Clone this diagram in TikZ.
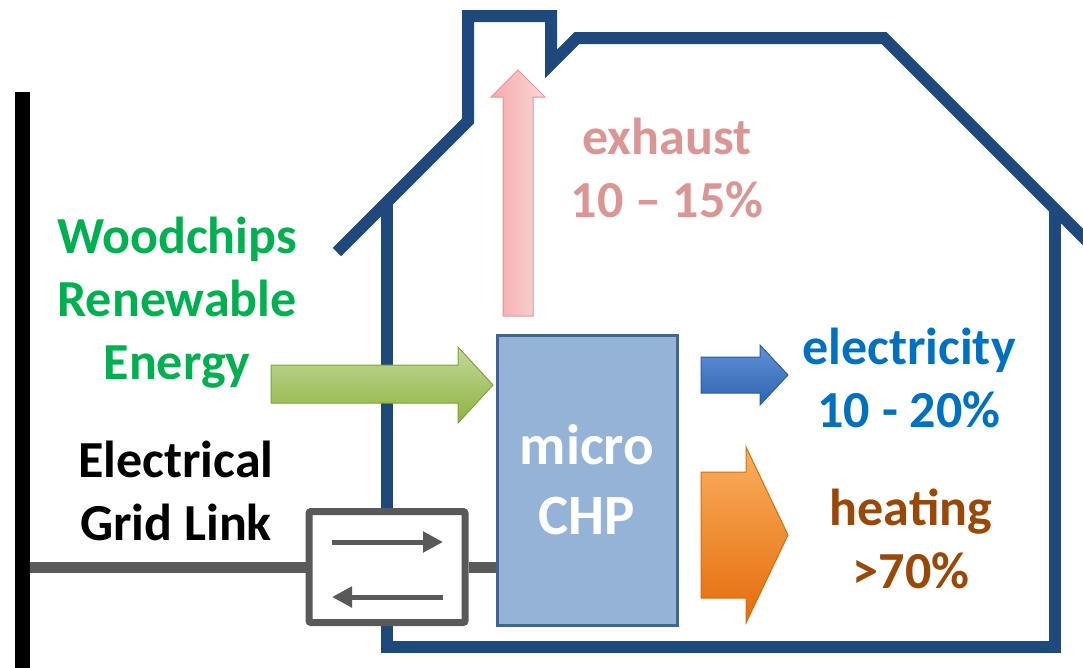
\documentclass[tikz,border=0pt]{standalone}
\usepackage{fontspec}
\setmainfont{Carlito}
\usetikzlibrary{arrows.meta}
\definecolor{houseblue}{RGB}{31,73,125}
\definecolor{chpfill}{RGB}{149,179,215}
\definecolor{chpline}{RGB}{63,100,150}
\definecolor{linkgray}{RGB}{89,89,89}
\definecolor{woodgreen}{RGB}{0,176,80}
\definecolor{exhaustpink}{RGB}{217,150,148}
\definecolor{elecblue}{RGB}{0,112,192}
\definecolor{heatbrown}{RGB}{152,72,7}

\begin{document}
\begin{tikzpicture}[x=1pt,y=-1pt,
    house/.style={draw=houseblue,line width=12pt},
    txt/.style={font=\bfseries\fontsize{52}{63}\selectfont,align=center},
    chp node/.style={draw=chpline,line width=3pt,fill=chpfill,minimum width=180pt,minimum height=290pt,
        text=white,font=\bfseries\fontsize{57}{70}\selectfont,align=center},
    link node/.style={draw=linkgray,line width=7pt,fill=white,minimum width=156pt,minimum height=111pt,
        inner sep=0pt,rounded corners=2pt},
    wire/.style={draw=linkgray,line width=11pt},
    small arrow/.style={draw=linkgray,line width=5pt,-{Triangle[length=20pt,width=20pt]}},
    block arrow/.style={line width=1pt}]
    \useasboundingbox (0,0) rectangle (1083,667);

    % house outline
    \draw[house] (337,252) -- (468,121) -- (468,16) -- (551,16) -- (551,64) -- (577,38) -- (884,38) -- (1100,254);
    \draw[house] (387,202) -- (387,647) -- (1055,647) -- (1055,209);

    % grid link
    \node[chp node] (chp) at (587,480) {micro\\CHP};
    \node[link node] (link) at (387,567) {};
    \coordinate (tap) at (22,567);
    \draw[wire] (tap) -- (link);
    \draw[wire] (link.east) -- (link.east -| chp.west);
    \draw[line width=15pt] (22,92) -- (22,670);
    \coordinate (fwd1) at (332,542);
    \coordinate (fwd2) at (443,542);
    \coordinate (back1) at (443,597);
    \coordinate (back2) at (332,597);
    \draw[small arrow] (fwd1) -- (fwd2);
    \draw[small arrow] (back1) -- (back2);

    % block arrows
    \draw[block arrow,draw={rgb,255:red,230;green,150;blue,150},left color={rgb,255:red,244;green,170;blue,170},
        right color={rgb,255:red,250;green,215;blue,215}]
        (503,316) -- (503,97) -- (491,97) -- (518,70) -- (545,97) -- (533,97) -- (533,316) -- cycle;
    \draw[block arrow,draw={rgb,255:red,127;green,163;blue,58},top color={rgb,255:red,196;green,215;blue,155},
        bottom color={rgb,255:red,141;green,180;blue,62}]
        (271,365) -- (458,365) -- (458,347) -- (493,385) -- (458,423) -- (458,403) -- (271,403) -- cycle;
    \draw[block arrow,draw={rgb,255:red,46;green,90;blue,160},top color={rgb,255:red,95;green,145;blue,215},
        bottom color={rgb,255:red,46;green,100;blue,176}]
        (701,357) -- (760,357) -- (760,345) -- (788,375) -- (760,405) -- (760,393) -- (701,393) -- cycle;
    \draw[block arrow,draw={rgb,255:red,210;green,110;blue,20},top color={rgb,255:red,250;green,175;blue,95},
        bottom color={rgb,255:red,228;green,108;blue,10}]
        (701,472) -- (746,472) -- (746,447) -- (788,535) -- (746,623) -- (746,598) -- (701,598) -- cycle;

    % labels
    \node[txt,text=woodgreen] (wood) at (177,303) {Woodchips\\Renewable\\Energy};
    \node[txt] (grid) at (176,491) {Electrical\\Grid Link};
    \node[txt,text=exhaustpink] (exhaust) at (667,168) {exhaust\\10 – 15\%};
    \node[txt,text=elecblue] (elec) at (909,378) {electricity\\10 - 20\%};
    \node[txt,text=heatbrown] (heat) at (911,539) {heating\\>70\%};
\end{tikzpicture}
\end{document}
